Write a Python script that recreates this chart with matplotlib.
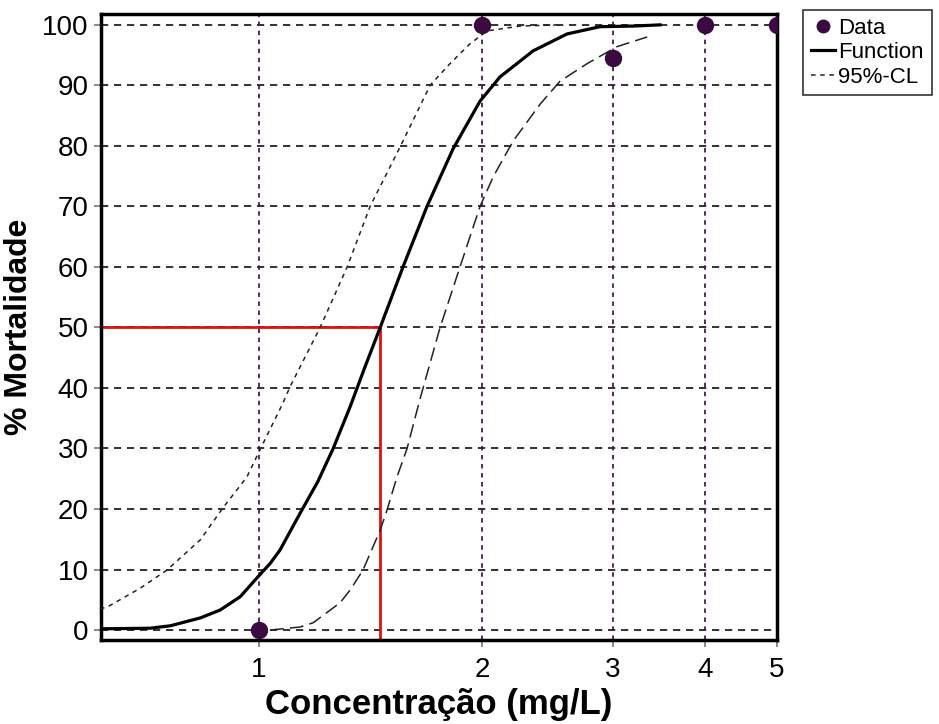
import matplotlib
matplotlib.use('Agg')
from matplotlib import pyplot as plt
from matplotlib.lines import Line2D

plt.rcParams['font.family'] = ['Liberation Sans', 'DejaVu Sans']

# Dados observados
conc_data = [1, 2, 3, 4, 5]
mort_data = [0, 100, 94.5, 100, 100]

# Curva ajustada
conc_func = [0.61, 0.713, 0.759, 0.833, 0.886, 0.943, 1.0, 1.035, 1.067, 1.136, 1.2, 1.259, 1.327,
             1.39, 1.457, 1.564, 1.685, 1.827, 1.987, 2.114, 2.343, 2.604, 2.885, 3.197, 3.477]
mort_func = [0.2, 0.3, 0.7, 2, 3.3, 5.5, 9, 11, 13.2, 19.3, 24.5, 30, 36.9,
             43.5, 50, 60, 70, 79.5, 87.4, 91.4, 95.7, 98.5, 99.7, 99.8, 100]

# Limite superior 95%
conc_up = [0.61, 0.624, 0.691, 0.751, 0.833, 0.894, 0.963, 1.003, 1.077, 1.101, 1.209,
           1.315, 1.412, 1.535, 1.564, 1.701, 1.81, 1.927, 2.031, 2.25, 2.548]
mort_up = [3.5, 3.8, 6.9, 9.9, 14.9, 20.2, 25.3, 29.8, 37.5, 40.2, 50,
           60, 70, 78.8, 80.8, 90, 93.6, 96.9, 99, 99.8, 100]

# Limite inferior 95%
conc_low = [1.035, 1.136, 1.183, 1.286, 1.327, 1.381, 1.457, 1.488, 1.535, 1.584, 1.649,
            1.755, 1.867, 1.987, 2.07, 2.202, 2.395, 2.548, 2.772, 3.041, 3.34]
mort_low = [0, 0.5, 1.2, 4.5, 6.6, 9.9, 16.5, 19.8, 25.3, 30, 38.2,
            50, 60, 70, 74.9, 80.8, 86.9, 90.7, 93.6, 96.4, 98]

lc50 = 1.457
x_min, x_max = 0.612, 5.0
y_min, y_max = -1.65, 101.8
x_ticks = [1, 2, 3, 4, 5]
y_ticks = list(range(0, 101, 10))

fig = plt.figure(figsize=(9.39, 7.24), dpi=100)
ax = fig.add_axes([0.1076, 0.116, 0.7199, 0.8647])

ax.set_xscale('log')
ax.set_xlim(x_min, x_max)
ax.set_ylim(y_min, y_max)

# Grade
for t in y_ticks:
    ax.axhline(t, color='#222222', lw=1.3, ls=(0, (4, 3.2)), zorder=1)
for t in x_ticks:
    ax.axvline(t, color='#4a1a4a', lw=1.3, ls=(0, (2.5, 2.5)), zorder=1)

# Linhas LC50
ax.plot([x_min, lc50], [50, 50], color='#e01010', lw=2, zorder=2)
ax.plot([lc50, lc50], [y_min, 50], color='#e01010', lw=2, zorder=2)

ax.plot(conc_up, mort_up, color='#222222', lw=1.1, ls=(0, (3, 3)), zorder=3)
ax.plot(conc_low, mort_low, color='#222222', lw=1.1, ls=(0, (9, 4)), zorder=3)
ax.plot(conc_func, mort_func, color='black', lw=2.3, zorder=4)
ax.plot(conc_data, mort_data, 'o', color='#3a0a40', ms=11.5, zorder=5)

ax.set_xticks(x_ticks)
ax.set_xticklabels([str(t) for t in x_ticks])
ax.xaxis.set_minor_locator(matplotlib.ticker.NullLocator())
ax.set_yticks(y_ticks)
ax.tick_params(axis='both', labelsize=20, length=5, width=1.2, color='#777777', pad=4)
ax.tick_params(axis='x', pad=7)

for s in ax.spines.values():
    s.set_linewidth(2.5)
    s.set_color('black')

ax.set_xlabel('Concentração (mg/L)', fontsize=25, fontweight='bold', labelpad=4)
ax.set_ylabel('% Mortalidade', fontsize=23, fontweight='bold', labelpad=6)

handles = [
    Line2D([], [], marker='o', color='#3a0a40', ls='none', ms=9),
    Line2D([], [], color='black', lw=2.3),
    Line2D([], [], color='#222222', lw=1.1, ls=(0, (3, 3))),
]
leg = fig.legend(handles, ['Data', 'Function', '95%-CL'], loc='upper left',
                 bbox_to_anchor=(0.855, 0.986), fontsize=16, frameon=True,
                 fancybox=False, edgecolor='black', handlelength=1.1,
                 handletextpad=0.15, borderpad=0.35, labelspacing=0.15, borderaxespad=0)
leg.get_frame().set_linewidth(1.2)

fig.savefig('out.png', dpi=100)
